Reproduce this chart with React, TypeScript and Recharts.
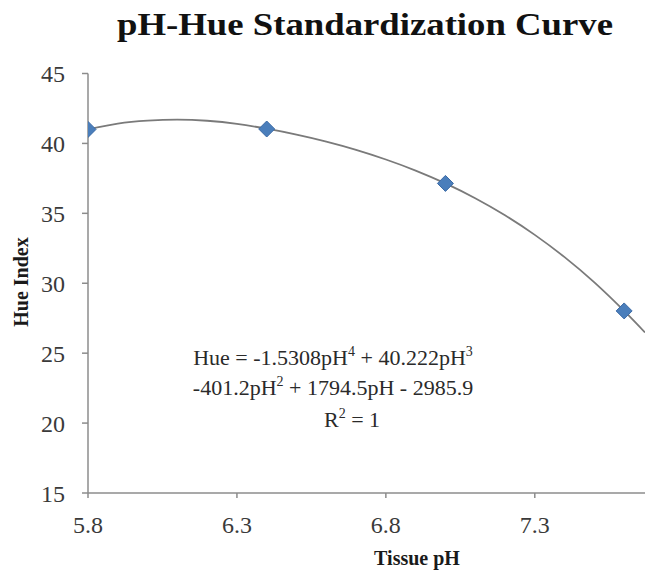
import {
  ComposedChart, Line, Scatter, XAxis, YAxis, Customized,
} from "recharts";

// measured standards (tissue pH vs hue index)
const samplePh = [5.8, 6.4, 7.0, 7.6];
const sampleHue = [41.0, 41.03, 37.14, 28.02];

// polynomial trendline
const trendPh = [5.8, 5.9, 6.0, 6.1, 6.2, 6.3, 6.4, 6.5, 6.6, 6.7, 6.8, 6.9, 7.0, 7.1, 7.2, 7.3, 7.4, 7.5, 7.6, 7.67];
const trendHue = [41.0, 41.42, 41.63, 41.7, 41.62, 41.4, 41.05, 40.63, 40.13, 39.54, 38.85, 38.06, 37.14, 36.08, 34.86, 33.46, 31.87, 30.06, 28.02, 26.48];

const xTicks = [5.8, 6.3, 6.8, 7.3];
const yTicks = [15, 20, 25, 30, 35, 40, 45];

const samples = samplePh.map((ph, i) => ({ ph, hue: sampleHue[i] }));
const trend = trendPh.map((ph, i) => ({ ph, hue: trendHue[i] }));

const SERIF = "'Liberation Serif', 'DejaVu Serif', serif";
const AXIS = "#8c8c8c";
const TICK_TEXT = "#3a3a3a";

const Diamond = ({ cx, cy }: any) => {
  if (cx == null || cy == null) return null;
  const r = 8;
  return (
    <polygon
      points={`${cx},${cy - r} ${cx + r},${cy} ${cx},${cy + r} ${cx - r},${cy}`}
      fill="#4A7EBB"
      stroke="#3B6AA6"
      strokeWidth={1}
    />
  );
};

const XTick = ({ x, y, payload }: any) => (
  <text x={x} y={y} dy="0.71em" textAnchor="middle" style={{ fontFamily: SERIF }} fontSize={24} fill={TICK_TEXT}>
    {Number(payload.value).toFixed(1)}
  </text>
);

const YTick = ({ x, y, payload }: any) => (
  <text x={x} y={y} dy="0.355em" textAnchor="end" style={{ fontFamily: SERIF }} fontSize={24} fill={TICK_TEXT}>
    {payload.value}
  </text>
);

const Annotations = () => (
  <g style={{ fontFamily: SERIF }}>
    <text x={365} y={35} textAnchor="middle" fontSize={32} fontWeight="bold" fill="#111"
      textLength={496} lengthAdjust="spacingAndGlyphs">
      pH-Hue Standardization Curve
    </text>
    <text x={0} y={0} transform="translate(28,282) rotate(-90)" textAnchor="middle"
      fontSize={20} fontWeight="bold" fill="#1a1a1a">
      Hue Index
    </text>
    <text x={417} y={565} textAnchor="middle" fontSize={20} fontWeight="bold" fill="#1a1a1a">
      Tissue pH
    </text>
    <g fontSize={22} fill="#2a2a2a" textAnchor="middle">
      <text x={333} y={365}>
        Hue = -1.5308pH<tspan fontSize={14} dy={-9}>4</tspan>
        <tspan dy={9}> + 40.222pH</tspan><tspan fontSize={14} dy={-9}>3</tspan>
      </text>
      <text x={333} y={395}>
        -401.2pH<tspan fontSize={14} dy={-9}>2</tspan>
        <tspan dy={9}> + 1794.5pH - 2985.9</tspan>
      </text>
      <text x={352} y={427}>
        R<tspan fontSize={14} dy={-9}>2</tspan><tspan dy={9}> = 1</tspan>
      </text>
    </g>
  </g>
);

export default function App() {
  return (
    <div style={{ position: "absolute", left: 0, top: 0, background: "#fff", fontFamily: SERIF }}>
      <ComposedChart width={645} height={574} margin={{ top: 73.5, right: 0, bottom: 21, left: 0 }}>
        <XAxis
          type="number"
          dataKey="ph"
          domain={[5.8, 7.67]}
          ticks={xTicks}
          allowDataOverflow
          height={60}
          stroke={AXIS}
          strokeWidth={1.5}
          tickSize={5}
          tickMargin={18}
          tick={<XTick />}
        />
        <YAxis
          type="number"
          dataKey="hue"
          domain={[15, 45]}
          ticks={yTicks}
          width={88}
          stroke={AXIS}
          strokeWidth={1.5}
          tickSize={6}
          tickMargin={17}
          tick={<YTick />}
        />
        <Line
          data={trend}
          dataKey="hue"
          type="natural"
          stroke="#7a7a7a"
          strokeWidth={1.8}
          dot={false}
          activeDot={false}
          isAnimationActive={false}
        />
        <Scatter data={samples} dataKey="hue" shape={<Diamond />} isAnimationActive={false} />
        <Customized component={Annotations} />
      </ComposedChart>
    </div>
  );
}
